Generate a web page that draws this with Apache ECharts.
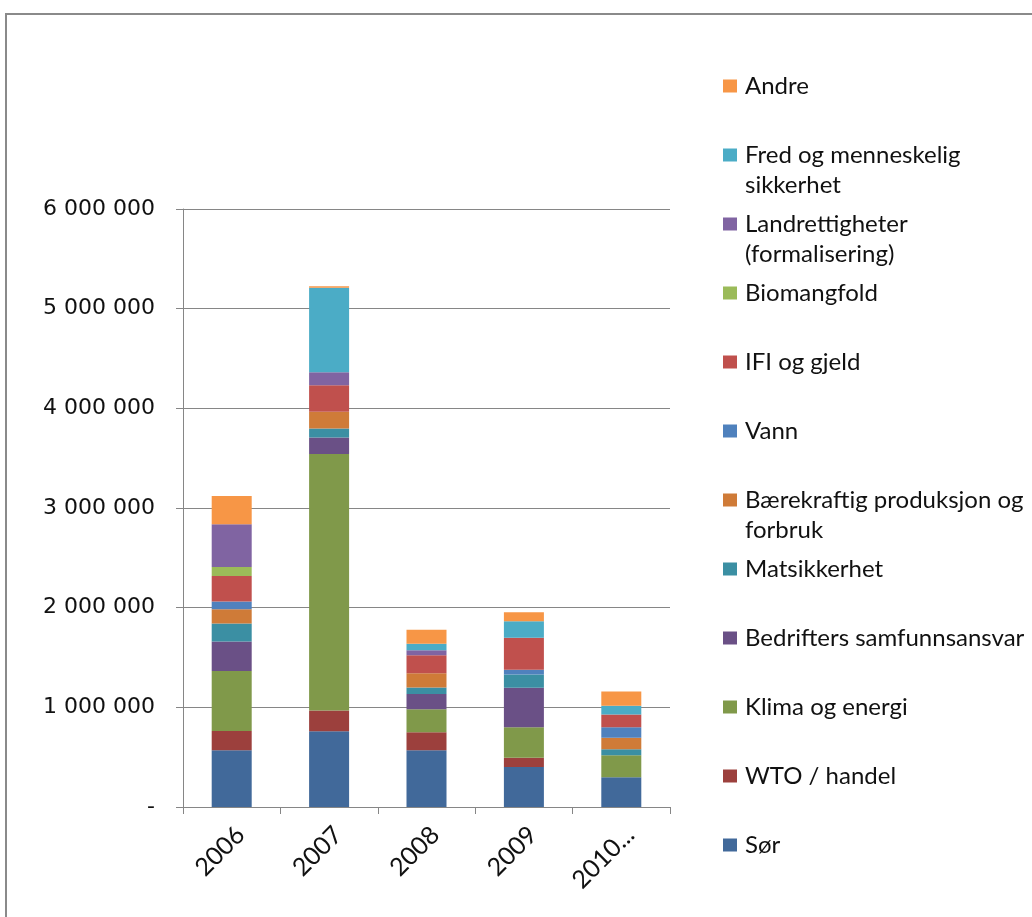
<!DOCTYPE html>
<html>
<head>
<meta charset="utf-8">
<script src="https://cdn.jsdelivr.net/npm/echarts@6/dist/echarts.min.js"></script>
<style>
html,body{margin:0;padding:0;background:#fff;}
#chart{width:1032px;height:917px;}
</style>
</head>
<body>
<div id="chart"></div>
<script>
const categories = ['2006', '2007', '2008', '2009', '2010...'];
const yTicks = [0, 1000000, 2000000, 3000000, 4000000, 5000000, 6000000];

const sor        = [569000, 759000, 569000, 401000, 298000];
const wto        = [194000, 208000, 181000, 94000, 0];
const klima      = [602000, 2574000, 231000, 304000, 221000];
const bedrifter  = [295000, 167000, 153000, 398000, 0];
const mats       = [181000, 90000, 64000, 133000, 60000];
const baerekraft = [143000, 167000, 143000, 0, 117000];
const vann       = [77000, 0, 0, 47000, 103000];
const ifi        = [257000, 267000, 181000, 321000, 130000];
const bio        = [90000, 0, 0, 0, 0];
const landrett   = [428000, 130000, 50000, 0, 0];
const fred       = [0, 847000, 67000, 166000, 87000];
const andre      = [284000, 16000, 140000, 90000, 143000];

const seriesNames = ['Sør', 'WTO / handel', 'Klima og energi', 'Bedrifters samfunnsansvar',
  'Matsikkerhet', 'Bærekraftig produksjon og forbruk', 'Vann', 'IFI og gjeld',
  'Biomangfold', 'Landrettigheter (formalisering)', 'Fred og menneskelig sikkerhet', 'Andre'];
const seriesData = [sor, wto, klima, bedrifter, mats, baerekraft, vann, ifi, bio, landrett, fred, andre];
const seriesColors = ['#41699A', '#9C403D', '#80994A', '#6A5086', '#3B8FA3', '#CF7B38',
  '#4F81BD', '#C0504D', '#9BBB59', '#8064A2', '#4BACC6', '#F79646'];
const legendLabels = {
  'Fred og menneskelig sikkerhet': ['Fred og menneskelig', 'sikkerhet'],
  'Landrettigheter (formalisering)': ['Landrettigheter', '(formalisering)'],
  'Bærekraftig produksjon og forbruk': ['Bærekraftig produksjon og', 'forbruk']
};

const chart = echarts.init(document.getElementById('chart'));

function fmt(v) {
  if (v === 0) return '-';
  return String(v).replace(/\B(?=(\d{3})+(?!\d))/g, ' ');
}

const legendData = seriesNames.slice().reverse().map(n => ({
  name: n,
  textStyle: legendLabels[n]
    ? { padding: [0, 0, 0, 3], lineHeight: 30 }
    : { padding: [30, 0, 30, 3], lineHeight: 30 }
}));

chart.setOption({
  animation: false,
  backgroundColor: '#fff',
  graphic: [{
    type: 'rect',
    shape: { x: 6, y: 14, width: 1100, height: 1000 },
    style: { fill: 'none', stroke: '#8a8a8a', lineWidth: 2 },
    silent: true
  }],
  grid: { left: 183, right: 362, top: 209, bottom: 110 },
  legend: {
    orient: 'vertical',
    left: 723,
    top: 41,
    padding: 0,
    itemGap: -21,
    itemWidth: 14,
    itemHeight: 13,
    icon: 'rect',
    data: legendData,
    formatter: n => legendLabels[n] ? ('\u00a0\n' + legendLabels[n].join('\n')) : n,
    textStyle: { fontFamily: 'Lato', fontSize: 24, color: '#111' }
  },
  xAxis: {
    type: 'category',
    data: categories,
    axisLine: { lineStyle: { color: '#868686' } },
    axisTick: { show: true, length: 7, lineStyle: { color: '#868686' } },
    axisLabel: {
      rotate: 45,
      interval: 0,
      margin: 15,
      verticalAlign: 'top',
      fontFamily: 'Lato',
      fontSize: 25,
      color: '#111'
    }
  },
  yAxis: {
    type: 'value',
    min: yTicks[0],
    max: yTicks[yTicks.length - 1],
    interval: 1000000,
    axisLine: { show: true, lineStyle: { color: '#868686' } },
    axisTick: { show: true, length: 7, lineStyle: { color: '#868686' } },
    splitLine: { lineStyle: { color: '#868686' } },
    axisLabel: {
      formatter: fmt,
      margin: 28,
      fontFamily: 'DejaVu Sans',
      fontSize: 22,
      color: '#111'
    }
  },
  series: seriesNames.map((n, i) => ({
    name: n,
    type: 'bar',
    stack: 'total',
    barWidth: 40,
    data: seriesData[i],
    itemStyle: { color: seriesColors[i] }
  }))
});
</script>
</body>
</html>
